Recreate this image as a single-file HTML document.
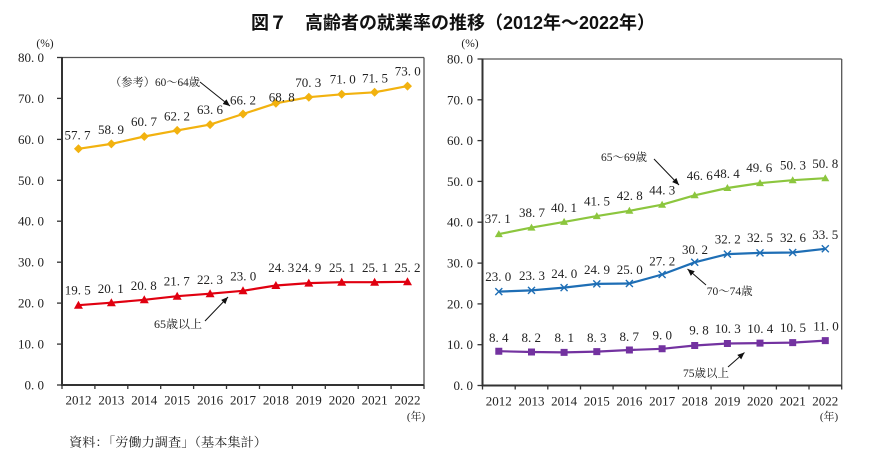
<!DOCTYPE html>
<html><head><meta charset="utf-8"><style>
html,body{margin:0;padding:0;background:#fff;}
svg{display:block;}
.t{font-family:"Liberation Serif","Noto Serif CJK SC",serif;font-size:13px;fill:#222;}
.lb{font-family:"Liberation Serif","Noto Serif CJK SC",serif;font-size:13px;fill:#222;text-anchor:middle;}
.yl{font-family:"Liberation Serif","Noto Serif CJK SC",serif;font-size:13px;fill:#222;text-anchor:end;}
.an{font-family:"Liberation Serif","Noto Serif CJK SC",serif;font-size:11.5px;fill:#222;}
</style></head><body>
<svg width="870" height="459" viewBox="0 0 870 459" xmlns="http://www.w3.org/2000/svg">
<defs>
<marker id="ah" markerUnits="userSpaceOnUse" markerWidth="8" markerHeight="8" refX="7" refY="4" orient="auto">
<path d="M0,1 L7,4 L0,7 Z" fill="#111"/>
</marker>
</defs>
<rect width="870" height="459" fill="#fff"/>
<text x="251" y="29" textLength="404" lengthAdjust="spacingAndGlyphs" style="font-family:'Liberation Sans','Noto Sans CJK JP',sans-serif;font-size:18px;font-weight:bold;fill:#111">図７　高齢者の就業率の推移（2012年～2022年）</text>

<!-- LEFT CHART -->
<g>
<line x1="62" y1="57.5" x2="424" y2="57.5" stroke="#555" stroke-width="1.3"/>
<line x1="424" y1="57.5" x2="424" y2="385" stroke="#555" stroke-width="1.3"/>
<line x1="62" y1="57" x2="62" y2="386" stroke="#333" stroke-width="2"/>
<line x1="61" y1="385" x2="424" y2="385" stroke="#333" stroke-width="2"/>
<g stroke="#333" stroke-width="1.3">
<line x1="57" y1="385" x2="62" y2="385"/><line x1="57" y1="344.1" x2="62" y2="344.1"/><line x1="57" y1="303.1" x2="62" y2="303.1"/><line x1="57" y1="262.2" x2="62" y2="262.2"/><line x1="57" y1="221.2" x2="62" y2="221.2"/><line x1="57" y1="180.3" x2="62" y2="180.3"/><line x1="57" y1="139.4" x2="62" y2="139.4"/><line x1="57" y1="98.4" x2="62" y2="98.4"/><line x1="57" y1="57.5" x2="62" y2="57.5"/>
<line x1="62" y1="385" x2="62" y2="389"/><line x1="94.9" y1="385" x2="94.9" y2="389"/><line x1="127.8" y1="385" x2="127.8" y2="389"/><line x1="160.7" y1="385" x2="160.7" y2="389"/><line x1="193.6" y1="385" x2="193.6" y2="389"/><line x1="226.5" y1="385" x2="226.5" y2="389"/><line x1="259.5" y1="385" x2="259.5" y2="389"/><line x1="292.4" y1="385" x2="292.4" y2="389"/><line x1="325.3" y1="385" x2="325.3" y2="389"/><line x1="358.2" y1="385" x2="358.2" y2="389"/><line x1="391.1" y1="385" x2="391.1" y2="389"/><line x1="424" y1="385" x2="424" y2="389"/>
</g>
<text class="yl" x="44" y="389.5">0.&#160;0</text>
<text class="yl" x="44" y="348.6">10.&#160;0</text>
<text class="yl" x="44" y="307.6">20.&#160;0</text>
<text class="yl" x="44" y="266.7">30.&#160;0</text>
<text class="yl" x="44" y="225.7">40.&#160;0</text>
<text class="yl" x="44" y="184.8">50.&#160;0</text>
<text class="yl" x="44" y="143.9">60.&#160;0</text>
<text class="yl" x="44" y="102.9">70.&#160;0</text>
<text class="yl" x="44" y="62">80.&#160;0</text>
<text x="45" y="47" text-anchor="middle" style="font-family:'Liberation Serif',serif;font-size:11.5px;fill:#222">(%)</text>
<g class="lb">
<text x="78.45" y="404.5">2012</text><text x="111.36" y="404.5">2013</text><text x="144.27" y="404.5">2014</text><text x="177.18" y="404.5">2015</text><text x="210.09" y="404.5">2016</text><text x="243" y="404.5">2017</text><text x="275.9" y="404.5">2018</text><text x="308.8" y="404.5">2019</text><text x="341.7" y="404.5">2020</text><text x="374.6" y="404.5">2021</text><text x="407.5" y="404.5">2022</text>
</g>
<text x="416" y="420" text-anchor="middle" style="font-family:'Liberation Serif','Noto Serif CJK SC',serif;font-size:11px;fill:#222">(年)</text>

<polyline fill="none" stroke="#F2B20F" stroke-width="2.2" stroke-linejoin="round" points="78.45,148.8 111.36,143.9 144.27,136.5 177.18,130.4 210.09,124.6 243,114 275.9,103.3 308.8,97.2 341.7,94.3 374.6,92.3 407.5,86.1"/>
<path fill="#F2B20F" d="M78.45 144.3l4.5 4.5-4.5 4.5-4.5-4.5zM111.36 139.4l4.5 4.5-4.5 4.5-4.5-4.5zM144.27 132l4.5 4.5-4.5 4.5-4.5-4.5zM177.18 125.9l4.5 4.5-4.5 4.5-4.5-4.5zM210.09 120.1l4.5 4.5-4.5 4.5-4.5-4.5zM243 109.5l4.5 4.5-4.5 4.5-4.5-4.5zM275.9 98.8l4.5 4.5-4.5 4.5-4.5-4.5zM308.8 92.7l4.5 4.5-4.5 4.5-4.5-4.5zM341.7 89.8l4.5 4.5-4.5 4.5-4.5-4.5zM374.6 87.8l4.5 4.5-4.5 4.5-4.5-4.5zM407.5 81.6l4.5 4.5-4.5 4.5-4.5-4.5z"/>

<polyline fill="none" stroke="#E00010" stroke-width="2.2" stroke-linejoin="round" points="78.45,305.2 111.36,302.7 144.27,299.8 177.18,296.2 210.09,293.7 243,290.8 275.9,285.5 308.8,283.1 341.7,282.2 374.6,282.2 407.5,281.8"/>
<path fill="#E00010" d="M78.45 300.7l4.5 8h-9zM111.36 298.2l4.5 8h-9zM144.27 295.3l4.5 8h-9zM177.18 291.7l4.5 8h-9zM210.09 289.2l4.5 8h-9zM243 286.3l4.5 8h-9zM275.9 281l4.5 8h-9zM308.8 278.6l4.5 8h-9zM341.7 277.7l4.5 8h-9zM374.6 277.7l4.5 8h-9zM407.5 277.3l4.5 8h-9z"/>

<g class="lb">
<text x="77.5" y="139.5">57.&#160;7</text><text x="111" y="133.8">58.&#160;9</text><text x="144" y="126.2">60.&#160;7</text><text x="177" y="120.5">62.&#160;2</text><text x="210" y="113.8">63.&#160;6</text><text x="243" y="104.5">66.&#160;2</text><text x="281.7" y="101.5">68.&#160;8</text><text x="308.3" y="87.2">70.&#160;3</text><text x="342.7" y="83.5">71.&#160;0</text><text x="375" y="82.5">71.&#160;5</text><text x="407.7" y="75.5">73.&#160;0</text>
<text x="77.7" y="294.5">19.&#160;5</text><text x="110.8" y="292.8">20.&#160;1</text><text x="143.8" y="290.2">20.&#160;8</text><text x="176.7" y="285.5">21.&#160;7</text><text x="210" y="283.8">22.&#160;3</text><text x="243.3" y="280.5">23.&#160;0</text><text x="281.3" y="272.2">24.&#160;3</text><text x="308.3" y="272.2">24.&#160;9</text><text x="342" y="272.2">25.&#160;1</text><text x="375" y="272.2">25.&#160;1</text><text x="407.5" y="272.2">25.&#160;2</text>
</g>
<text class="an" x="110" y="86" textLength="90" lengthAdjust="spacingAndGlyphs">（参考）60～64歳</text>
<line x1="200" y1="82" x2="230" y2="106" stroke="#111" stroke-width="1" marker-end="url(#ah)"/>
<text class="an" x="154" y="328" textLength="48" lengthAdjust="spacingAndGlyphs">65歳以上</text>
<line x1="205" y1="321" x2="228" y2="297" stroke="#111" stroke-width="1" marker-end="url(#ah)"/>
</g>

<!-- RIGHT CHART -->
<g>
<line x1="482.5" y1="59" x2="841.7" y2="59" stroke="#555" stroke-width="1.3"/>
<line x1="841.7" y1="59" x2="841.7" y2="385.5" stroke="#555" stroke-width="1.3"/>
<line x1="482.5" y1="58.5" x2="482.5" y2="386.5" stroke="#333" stroke-width="2"/>
<line x1="481.5" y1="385.5" x2="841.7" y2="385.5" stroke="#333" stroke-width="2"/>
<g stroke="#333" stroke-width="1.3">
<line x1="477.5" y1="385.5" x2="482.5" y2="385.5"/><line x1="477.5" y1="344.7" x2="482.5" y2="344.7"/><line x1="477.5" y1="303.9" x2="482.5" y2="303.9"/><line x1="477.5" y1="263.1" x2="482.5" y2="263.1"/><line x1="477.5" y1="222.2" x2="482.5" y2="222.2"/><line x1="477.5" y1="181.4" x2="482.5" y2="181.4"/><line x1="477.5" y1="140.6" x2="482.5" y2="140.6"/><line x1="477.5" y1="99.8" x2="482.5" y2="99.8"/><line x1="477.5" y1="59" x2="482.5" y2="59"/>
<line x1="482.5" y1="385.5" x2="482.5" y2="389.5"/><line x1="515.2" y1="385.5" x2="515.2" y2="389.5"/><line x1="547.8" y1="385.5" x2="547.8" y2="389.5"/><line x1="580.5" y1="385.5" x2="580.5" y2="389.5"/><line x1="613.1" y1="385.5" x2="613.1" y2="389.5"/><line x1="645.8" y1="385.5" x2="645.8" y2="389.5"/><line x1="678.4" y1="385.5" x2="678.4" y2="389.5"/><line x1="711.1" y1="385.5" x2="711.1" y2="389.5"/><line x1="743.7" y1="385.5" x2="743.7" y2="389.5"/><line x1="776.4" y1="385.5" x2="776.4" y2="389.5"/><line x1="809" y1="385.5" x2="809" y2="389.5"/><line x1="841.7" y1="385.5" x2="841.7" y2="389.5"/>
</g>
<text class="yl" x="473" y="390">0.&#160;0</text>
<text class="yl" x="473" y="349.2">10.&#160;0</text>
<text class="yl" x="473" y="308.4">20.&#160;0</text>
<text class="yl" x="473" y="267.6">30.&#160;0</text>
<text class="yl" x="473" y="226.7">40.&#160;0</text>
<text class="yl" x="473" y="185.9">50.&#160;0</text>
<text class="yl" x="473" y="145.1">60.&#160;0</text>
<text class="yl" x="473" y="104.3">70.&#160;0</text>
<text class="yl" x="473" y="63.5">80.&#160;0</text>
<text x="470" y="47" text-anchor="middle" style="font-family:'Liberation Serif',serif;font-size:11.5px;fill:#222">(%)</text>
<g class="lb">
<text x="498.8" y="405.5">2012</text><text x="531.5" y="405.5">2013</text><text x="564.1" y="405.5">2014</text><text x="596.8" y="405.5">2015</text><text x="629.4" y="405.5">2016</text><text x="662.1" y="405.5">2017</text><text x="694.7" y="405.5">2018</text><text x="727.4" y="405.5">2019</text><text x="760" y="405.5">2020</text><text x="792.7" y="405.5">2021</text><text x="825.3" y="405.5">2022</text>
</g>
<text x="829" y="420" text-anchor="middle" style="font-family:'Liberation Serif','Noto Serif CJK SC',serif;font-size:11px;fill:#222">(年)</text>

<polyline fill="none" stroke="#8CC63E" stroke-width="2.2" stroke-linejoin="round" points="498.8,234.1 531.5,227.6 564.1,221.9 596.8,216.1 629.4,210.8 662.1,204.7 694.7,195.3 727.4,188 760,183.1 792.7,180.2 825.3,178.2"/>
<path fill="#8CC63E" d="M498.8 230.1l4 7h-8zM531.5 223.6l4 7h-8zM564.1 217.9l4 7h-8zM596.8 212.1l4 7h-8zM629.4 206.8l4 7h-8zM662.1 200.7l4 7h-8zM694.7 191.3l4 7h-8zM727.4 184l4 7h-8zM760 179.1l4 7h-8zM792.7 176.2l4 7h-8zM825.3 174.2l4 7h-8z"/>

<polyline fill="none" stroke="#1E6EB5" stroke-width="2.2" stroke-linejoin="round" points="498.8,291.6 531.5,290.4 564.1,287.6 596.8,283.9 629.4,283.5 662.1,274.5 694.7,262.3 727.4,254.1 760,252.9 792.7,252.5 825.3,248.8"/>
<path fill="none" stroke="#1E6EB5" stroke-width="1.4" d="M495.3 288.1l7 7m0-7l-7 7M528 286.9l7 7m0-7l-7 7M560.6 284.1l7 7m0-7l-7 7M593.3 280.4l7 7m0-7l-7 7M625.9 280l7 7m0-7l-7 7M658.6 271l7 7m0-7l-7 7M691.2 258.8l7 7m0-7l-7 7M723.9 250.6l7 7m0-7l-7 7M756.5 249.4l7 7m0-7l-7 7M789.2 249l7 7m0-7l-7 7M821.8 245.3l7 7m0-7l-7 7"/>

<polyline fill="none" stroke="#7332A0" stroke-width="2.2" stroke-linejoin="round" points="498.8,351.2 531.5,352 564.1,352.4 596.8,351.6 629.4,350 662.1,348.8 694.7,345.5 727.4,343.5 760,343.1 792.7,342.6 825.3,340.6"/>
<path fill="#7332A0" d="M495.3 347.7h7v7h-7zM528 348.5h7v7h-7zM560.6 348.9h7v7h-7zM593.3 348.1h7v7h-7zM625.9 346.5h7v7h-7zM658.6 345.3h7v7h-7zM691.2 342h7v7h-7zM723.9 340h7v7h-7zM756.5 339.6h7v7h-7zM789.2 339.1h7v7h-7zM821.8 337.1h7v7h-7z"/>

<g class="lb">
<text x="497.8" y="222.8">37.&#160;1</text><text x="532" y="217.2">38.&#160;7</text><text x="564" y="212.2">40.&#160;1</text><text x="597" y="205.5">41.&#160;5</text><text x="629.7" y="200.2">42.&#160;8</text><text x="662.2" y="194.5">44.&#160;3</text><text x="699.7" y="180.2">46.&#160;6</text><text x="726.7" y="177.8">48.&#160;4</text><text x="759.3" y="172.2">49.&#160;6</text><text x="793" y="169.5">50.&#160;3</text><text x="825.2" y="167.8">50.&#160;8</text>
<text x="498.3" y="281.2">23.&#160;0</text><text x="532" y="280.2">23.&#160;3</text><text x="564.2" y="277.8">24.&#160;0</text><text x="597" y="273.8">24.&#160;9</text><text x="629.7" y="273.8">25.&#160;0</text><text x="662.2" y="265.5">27.&#160;2</text><text x="695" y="253.8">30.&#160;2</text><text x="727.7" y="243.5">32.&#160;2</text><text x="760" y="241.8">32.&#160;5</text><text x="793" y="241.8">32.&#160;6</text><text x="825.2" y="238.8">33.&#160;5</text>
<text x="498.7" y="342.2">8.&#160;4</text><text x="531.3" y="342.2">8.&#160;2</text><text x="564.2" y="342.2">8.&#160;1</text><text x="596.7" y="342.2">8.&#160;3</text><text x="629.3" y="341.2">8.&#160;7</text><text x="662.3" y="339.5">9.&#160;0</text><text x="699" y="334.5">9.&#160;8</text><text x="727.7" y="332.8">10.&#160;3</text><text x="760.3" y="332.8">10.&#160;4</text><text x="793" y="332.2">10.&#160;5</text><text x="826" y="330.5">11.&#160;0</text>
</g>
<text class="an" x="601" y="161" textLength="46" lengthAdjust="spacingAndGlyphs">65～69歳</text>
<line x1="654" y1="159" x2="679" y2="185" stroke="#111" stroke-width="1" marker-end="url(#ah)"/>
<text class="an" x="706.7" y="295" textLength="46" lengthAdjust="spacingAndGlyphs">70～74歳</text>
<line x1="706" y1="285" x2="687.5" y2="269" stroke="#111" stroke-width="1" marker-end="url(#ah)"/>
<text class="an" x="683" y="377" textLength="46" lengthAdjust="spacingAndGlyphs">75歳以上</text>
<line x1="728" y1="367" x2="744.5" y2="352.5" stroke="#111" stroke-width="1" marker-end="url(#ah)"/>
</g>

<text x="69" y="446.5" textLength="198" lengthAdjust="spacingAndGlyphs" style="font-family:'Liberation Serif','Noto Serif CJK SC',serif;font-size:12.5px;fill:#222">資料：「労働力調査」（基本集計）</text>
</svg>
</body></html>
